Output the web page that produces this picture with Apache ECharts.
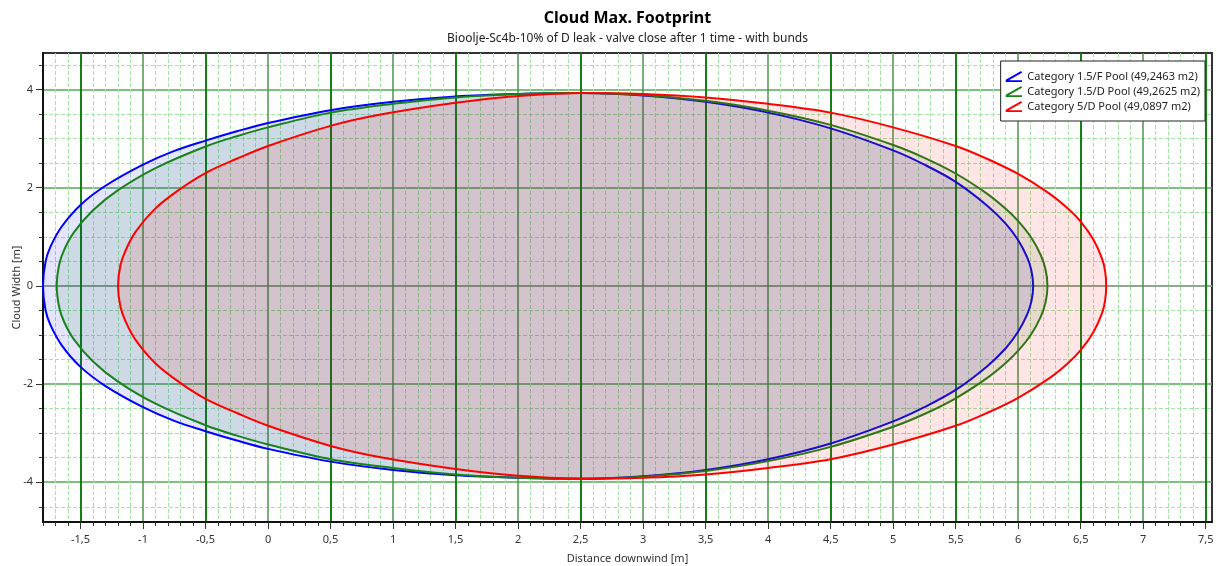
<!DOCTYPE html>
<html>
<head>
<meta charset="utf-8">
<script src="https://cdn.jsdelivr.net/npm/echarts@6/dist/echarts.min.js"></script>
<style>html,body{margin:0;padding:0;background:#fff}#chart{width:1217px;height:566px}</style>
</head>
<body>
<div id="chart"></div>
<script>
// ---------- data ----------
const chartTitle = 'Cloud Max. Footprint';
const chartSubtitle = 'Bioolje-Sc4b-10% of D leak - valve close after 1 time - with bunds';
const xAxisName = 'Distance downwind [m]';
const yAxisName = 'Cloud Width [m]';
const seriesNames = [
  'Category 1.5/F Pool (49,2463 m2)',
  'Category 1.5/D Pool (49,2625 m2)',
  'Category 5/D Pool (49,0897 m2)'
];
// downwind distance and half width (cloud is symmetric about the centre line)
const blueX = [-1.8,-1.78,-1.74,-1.65,-1.5,-1.3,-1,-0.75,-0.5,-0.25,0,0.5,1,1.5,2,2.5,3,3.5,4,4.5,5,5.25,5.5,5.75,5.9,6,6.07,6.105,6.12];
const blueW = [0,0.49,0.8,1.21,1.65,2.04,2.47,2.75,2.96,3.15,3.32,3.58,3.75,3.86,3.91,3.93,3.88,3.75,3.53,3.21,2.76,2.47,2.12,1.64,1.27,0.93,0.59,0.32,0];
const greenX = [-1.69,-1.67,-1.63,-1.55,-1.4,-1.2,-0.9,-0.5,-0.25,0,0.5,1,1.5,2,2.5,3,3.5,4,4.5,5,5.25,5.5,5.75,5.9,6,6.1,6.18,6.22,6.234];
const greenW = [0,0.44,0.74,1.1,1.54,1.95,2.4,2.84,3.05,3.23,3.53,3.71,3.84,3.91,3.93,3.89,3.77,3.57,3.28,2.87,2.61,2.29,1.88,1.57,1.32,1.0,0.63,0.32,0];
const redX = [-1.2,-1.18,-1.14,-1.06,-0.9,-0.7,-0.5,-0.25,0,0.5,0.9,1.5,2,2.5,3,3.5,4,4.5,5,5.5,5.75,6,6.25,6.4,6.5,6.6,6.67,6.695,6.704];
const redW = [0,0.43,0.72,1.1,1.58,1.98,2.3,2.59,2.85,3.26,3.49,3.73,3.87,3.93,3.91,3.84,3.71,3.53,3.23,2.85,2.59,2.28,1.88,1.57,1.31,0.95,0.56,0.3,0];
// axis ticks
const xMajorTicks = [-1.5,-1,-0.5,0,0.5,1,1.5,2,2.5,3,3.5,4,4.5,5,5.5,6,6.5,7,7.5];
const xHalfLines = [-1.5,-0.5,0.5,1.5,2.5,3.5,4.5,5.5,6.5,7.5];
const xIntLines = [-1,0,1,2,3,4,5,6,7];
const yMajorTicks = [-4,-2,0,2,4];
const yMajorLines = [-4,-2,2,4];
const yZeroLine = [0];
const yMinorTicks = [-4.5,-3.5,-3,-2.5,-1.5,-1,-0.5,0.5,1,1.5,2.5,3,3.5,4.5];
const X_MIN = -1.8, X_MAX = 7.55, Y_MIN = -4.81, Y_MAX = 4.745;

// minor x ticks every 0.1 (not on 0.5 multiples)
const xMinorTicks = [];
for (let k = -18; k <= 75; k++) { if (k % 5 !== 0) xMinorTicks.push(k / 10); }

const FONT = 'Noto Sans';
const colors = ['#0000ff', '#1a821a', '#ff0000'];
const fills = ['rgba(0,0,255,0.1)', 'rgba(0,128,0,0.1)', 'rgba(255,0,0,0.1)'];

function outline(xs, ws) {
  const pts = [];
  for (let i = 0; i < xs.length; i++) pts.push([xs[i], ws[i]]);
  for (let i = xs.length - 2; i > 0; i--) pts.push([xs[i], -ws[i]]);
  return pts;
}
const shapes = [outline(blueX, blueW), outline(greenX, greenW), outline(redX, redW)];

// closed smooth path through pixel points (cardinal spline)
function smoothClosedPath(p, k) {
  const n = p.length;
  const dist = (a, b) => Math.hypot(a[0] - b[0], a[1] - b[1]) || 1e-6;
  const f = v => v.toFixed(2);
  let d = 'M' + f(p[0][0]) + ' ' + f(p[0][1]);
  for (let i = 0; i < n; i++) {
    const p0 = p[(i - 1 + n) % n], p1 = p[i], p2 = p[(i + 1) % n], p3 = p[(i + 2) % n];
    const d01 = dist(p0, p1), d12 = dist(p1, p2), d23 = dist(p2, p3);
    const s1 = k * 2 * d12 / (d01 + d12), s2 = k * 2 * d12 / (d12 + d23);
    const c1 = [p1[0] + (p2[0] - p0[0]) * s1 / 2, p1[1] + (p2[1] - p0[1]) * s1 / 2];
    const c2 = [p2[0] - (p3[0] - p1[0]) * s2 / 2, p2[1] - (p3[1] - p1[1]) * s2 / 2];
    d += ' C' + f(c1[0]) + ' ' + f(c1[1]) + ' ' + f(c2[0]) + ' ' + f(c2[1]) + ' ' + f(p2[0]) + ' ' + f(p2[1]);
  }
  return d + ' Z';
}

const fmt = v => String(v).replace('.', ',');

function gridAxis(dim, values, lineStyle, tickLen) {
  const isX = dim === 'x';
  return {
    type: 'value',
    min: isX ? X_MIN : Y_MIN, max: isX ? X_MAX : Y_MAX,
    position: isX ? 'bottom' : 'left',
    axisLine: { show: false, onZero: false },
    axisLabel: { show: false },
    axisTick: { show: !!tickLen, customValues: values, length: tickLen || 0, lineStyle: { color: '#333', width: 1 } },
    splitLine: { show: true, lineStyle: lineStyle },
    silent: true
  };
}

const xAxes = [
  gridAxis('x', xMinorTicks, { color: '#a3e6a3', width: 1, type: [4, 2] }, 4),
  gridAxis('x', xIntLines, { color: '#4b964b', width: 1.5 }),
  gridAxis('x', xHalfLines, { color: '#138213', width: 2 }),
  {
    type: 'value', min: X_MIN, max: X_MAX, position: 'bottom',
    axisLine: { show: true, onZero: false, lineStyle: { color: '#111', width: 2 } },
    axisTick: { show: true, customValues: xMajorTicks, length: 7, lineStyle: { color: '#333', width: 1 } },
    axisLabel: { customValues: xMajorTicks, formatter: fmt, margin: 12, color: '#333', fontSize: 11, fontFamily: FONT },
    splitLine: { show: false },
    name: xAxisName, nameLocation: 'middle', nameGap: 31,
    nameTextStyle: { color: '#333', fontSize: 11, fontFamily: FONT }
  }
];
const yAxes = [
  gridAxis('y', yMinorTicks, { color: '#a3e6a3', width: 1, type: [4, 2] }, 4),
  gridAxis('y', yMajorLines, { color: '#55aa55', width: 1.5 }),
  gridAxis('y', yZeroLine, { color: '#8fa88f', width: 2 }),
  {
    type: 'value', min: Y_MIN, max: Y_MAX, position: 'left',
    axisLine: { show: true, onZero: false, lineStyle: { color: '#111', width: 2 } },
    axisTick: { show: true, customValues: yMajorTicks, length: 7, lineStyle: { color: '#333', width: 1 } },
    axisLabel: { customValues: yMajorTicks, formatter: fmt, margin: 10, color: '#333', fontSize: 11, fontFamily: FONT },
    splitLine: { show: false },
    name: yAxisName, nameLocation: 'middle', nameGap: 21, nameRotate: 90, nameMoveOverlap: false,
    nameTextStyle: { color: '#333', fontSize: 11, fontFamily: FONT }
  }
];

const legendIcon = 'path://M0,9 L16,0 L17,1.8 L1,10.8 Z M0,9.6 L17,9.6 L17,11.4 L0,11.4 Z';

const series = shapes.map((pts, i) => ({
  type: 'custom',
  name: seriesNames[i],
  coordinateSystem: 'cartesian2d',
  xAxisIndex: 3, yAxisIndex: 3,
  data: pts,
  clip: false,
  silent: true,
  itemStyle: { color: colors[i] },
  z: 2 + i,
  renderItem: function (params, api) {
    if (params.dataIndex !== 0) return null;
    const p = pts.map(q => api.coord(q));
    return {
      type: 'path',
      shape: { pathData: smoothClosedPath(p, 0.35) },
      style: { fill: fills[i], stroke: colors[i], lineWidth: 2 }
    };
  }
}));

const chart = echarts.init(document.getElementById('chart'), null, { renderer: 'canvas' });
chart.setOption({
  animation: false,
  backgroundColor: '#fff',
  textStyle: { fontFamily: FONT },
  grid: { left: 43, right: 5, top: 53, bottom: 44, show: true, borderColor: '#333', borderWidth: 2, backgroundColor: '#fff', containLabel: false, outerBoundsMode: 'none' },
  graphic: [
    { type: 'text', x: 627.5, y: 18, style: { text: chartTitle, align: 'center', verticalAlign: 'middle', textAlign: 'center', textVerticalAlign: 'middle', fill: '#000', font: 'bold 16px "Noto Sans"' } },
    { type: 'text', x: 627.5, y: 39, style: { text: chartSubtitle, align: 'center', verticalAlign: 'middle', textAlign: 'center', textVerticalAlign: 'middle', fill: '#222', font: '12px "Noto Sans"' } }
  ],
  legend: {
    orient: 'vertical', right: 12, top: 61,
    itemWidth: 17, itemHeight: 11, itemGap: 4,
    padding: [10, 5, 9, 5],
    backgroundColor: '#fff', borderColor: '#222', borderWidth: 1, borderRadius: 0,
    textStyle: { fontSize: 11, color: '#222', fontFamily: FONT },
    data: seriesNames.map((n, i) => ({ name: n, icon: legendIcon, itemStyle: { color: colors[i] } })),
    selectedMode: false
  },
  xAxis: xAxes,
  yAxis: yAxes,
  series: series
});
</script>
</body>
</html>
